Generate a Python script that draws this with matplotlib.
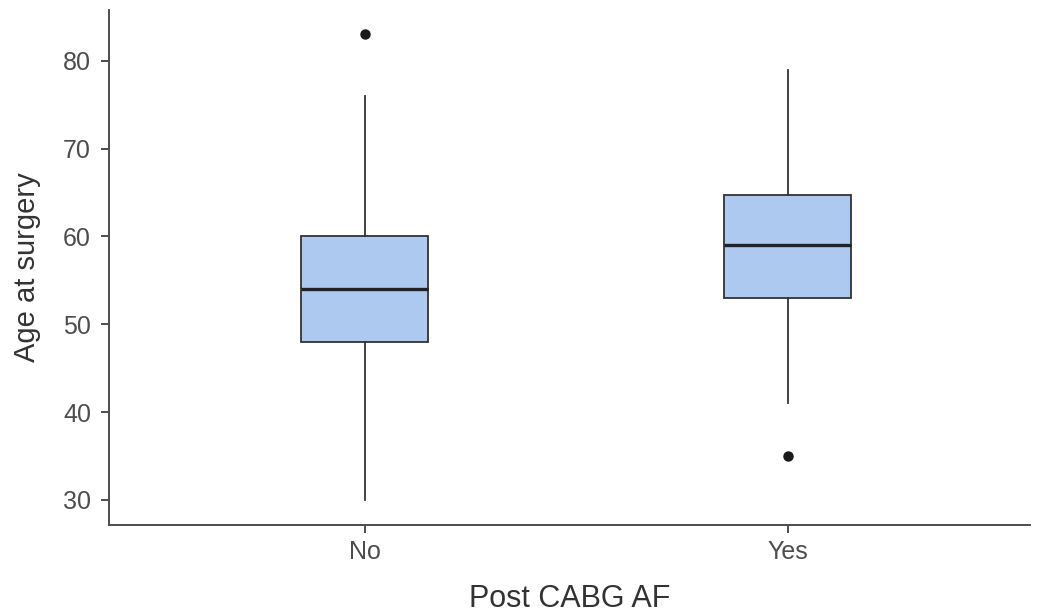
import matplotlib
matplotlib.use("Agg")
import matplotlib.pyplot as plt

categories = ["No", "Yes"]
whisker_low = [30, 41]
q1 = [48, 53]
median = [54, 59]
q3 = [60, 64.7]
whisker_high = [76, 79]
outliers = [[83], [35]]
yticks = [30, 40, 50, 60, 70, 80]

plt.rcParams['font.family'] = ['Liberation Sans', 'DejaVu Sans']

fig = plt.figure(figsize=(10.39, 6.14), dpi=100)
ax = fig.add_axes([0.105, 0.145, 0.886, 0.839])

stats = []
for i, c in enumerate(categories):
    stats.append(dict(label=c, whislo=whisker_low[i], q1=q1[i], med=median[i],
                      q3=q3[i], whishi=whisker_high[i], fliers=outliers[i]))

positions = list(range(1, len(categories) + 1))
ax.bxp(stats, positions=positions, widths=0.3, patch_artist=True, showcaps=False,
       boxprops=dict(facecolor='#AEC9F0', edgecolor='#333333', linewidth=1.3),
       medianprops=dict(color='#222222', linewidth=2.4),
       whiskerprops=dict(color='#333333', linewidth=1.3),
       flierprops=dict(marker='o', markerfacecolor='#1a1a1a', markeredgecolor='#1a1a1a',
                       markersize=6.5))

ax.set_xlim(0.395, 2.572)
ax.set_ylim(27.15, 85.8)
ax.set_yticks(yticks)
ax.set_xticks(positions)
ax.set_xticklabels(categories)

for s in ['top', 'right']:
    ax.spines[s].set_visible(False)
for s in ['left', 'bottom']:
    ax.spines[s].set_color('#4d4d4d')
    ax.spines[s].set_linewidth(1.4)
ax.tick_params(axis='both', colors='#4d4d4d', labelcolor='#4d4d4d', labelsize=18,
               width=1.4, length=6)
ax.tick_params(axis='x', pad=5)
ax.tick_params(axis='y', pad=7)

ax.set_xlabel("Post CABG AF", fontsize=22, color='#333333', labelpad=14)
ax.set_ylabel("Age at surgery", fontsize=21, color='#333333', labelpad=16)

fig.savefig("out.png", dpi=100, facecolor='white')
